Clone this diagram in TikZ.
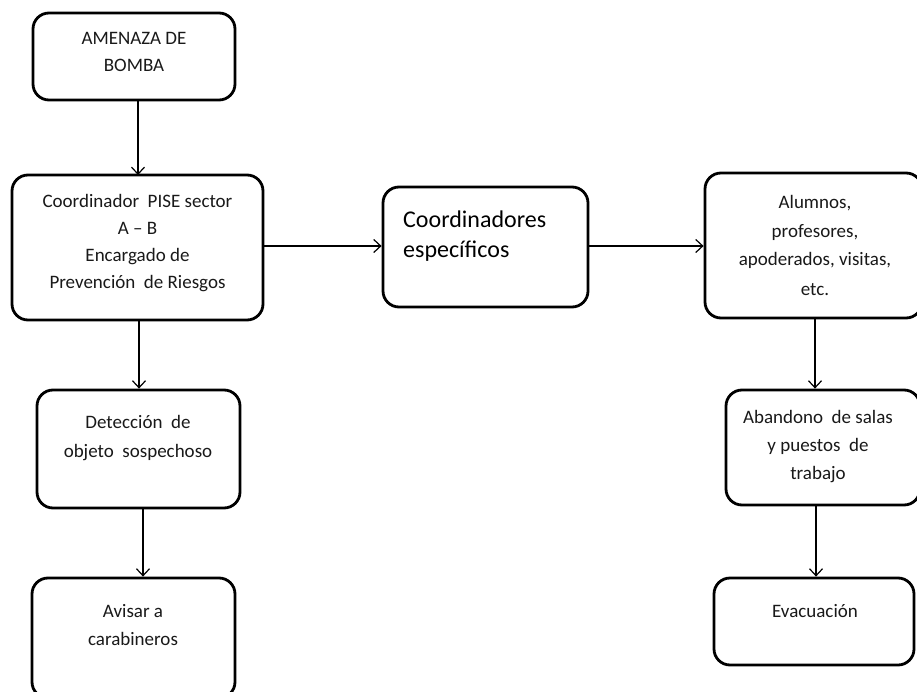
\documentclass[tikz,border=0pt]{standalone}
\usepackage{fontspec}
\setmainfont{Carlito}
\usetikzlibrary{arrows.meta}
\tikzset{
  box/.style={draw=black, line width=2.8pt, rounded corners=16pt, inner sep=0pt},
  txt/.style={align=center, font=\fontsize{19}{28}\selectfont, text=black!90, inner sep=0pt, anchor=base},
  bigtxt/.style={align=left, font=\fontsize{24}{30}\selectfont, text=black, inner sep=0pt, anchor=base west},
  conn/.style={line width=1.2pt, -{Straight Barb[length=7pt,width=13pt,line width=1.2pt]}}
}
\begin{document}
\begin{tikzpicture}[x=1pt,y=-1pt]
\useasboundingbox (0,0) rectangle (917,692);
\clip (0,0) rectangle (917,692);
\fill[white] (0,0) rectangle (917,692);
% boxes
\node[box, minimum width=202pt, minimum height=87pt] (b1) at (134,56.5) {};
\node[box, minimum width=251pt, minimum height=145pt] (b2) at (137.5,247.5) {};
\node[box, minimum width=205pt, minimum height=120pt] (b3) at (485.5,247) {};
\node[box, minimum width=217pt, minimum height=145pt] (b4) at (813.5,245.5) {};
\node[box, minimum width=194pt, minimum height=115pt] (b5) at (823,447.5) {};
\node[box, minimum width=200pt, minimum height=87pt] (b6) at (814,621.5) {};
\node[box, minimum width=203pt, minimum height=118pt] (b7) at (138.5,449) {};
\node[box, minimum width=203pt, minimum height=120pt] (b8) at (133.5,638) {};
% texts (anchor = baseline of the last line)
\node[txt, font=\fontsize{19}{27}\selectfont] (t1) at (134,72) {AMENAZA DE\\BOMBA};
\node[txt, font=\fontsize{19}{26.7}\selectfont] (t2) at (137.5,288) {Coordinador\ \ PISE sector\\A -- B\\Encargado de\\Prevención\ \ de Riesgos};
\node[bigtxt] (t3) at (403,258) {Coordinadores\\específicos};
\node[txt, font=\fontsize{19}{29}\selectfont] (t4) at (815,295) {Alumnos,\\profesores,\\apoderados, visitas,\\etc.};
\node[txt] (t5) at (818,479) {Abandono\ \ de salas\\y puestos\ \ de\\trabajo};
\node[txt] (t6) at (815,617) {Evacuación};
\node[txt, font=\fontsize{19}{29}\selectfont] (t7) at (138,457) {Detección\ \ de\\objeto\ \ sospechoso};
\node[txt] (t8) at (133,645) {Avisar a\\carabineros};
% connectors
\coordinate (c12a) at (138,100);
\coordinate (c12b) at (138,175);
\draw[conn] (c12a) -- (c12b);
\draw[conn] (b2.east |- 0,246) -- (b3.west |- 0,246);
\draw[conn] (b3.east |- 0,246) -- (b4.west |- 0,246);
\draw[conn] (b2.south -| 139,0) -- (b7.north -| 139,0);
\draw[conn] (b7.south -| 143,0) -- (b8.north -| 143,0);
\draw[conn] (b4.south -| 815,0) -- (b5.north -| 815,0);
\draw[conn] (b5.south -| 816,0) -- (b6.north -| 816,0);
\end{tikzpicture}
\end{document}
